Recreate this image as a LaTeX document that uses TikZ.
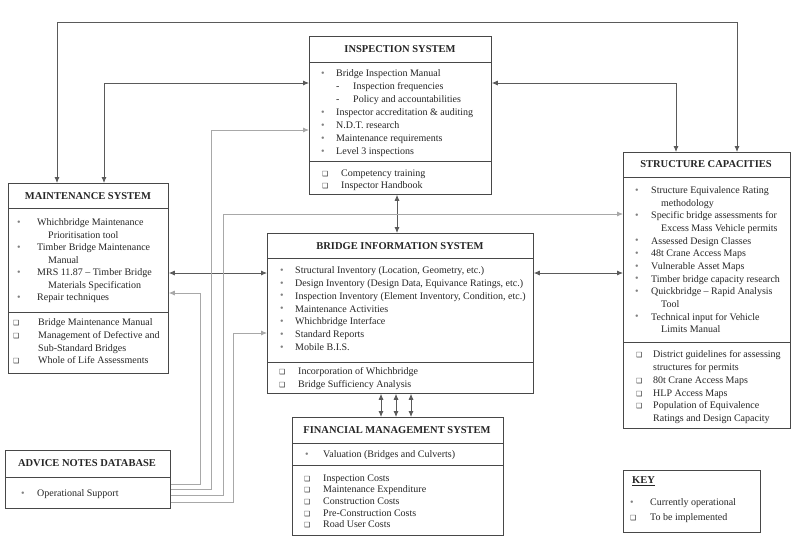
\documentclass[tikz,border=0pt]{standalone}
\usepackage{fontspec}
\setmainfont{Liberation Serif}
\newfontfamily\symfont{DejaVu Sans}
\usetikzlibrary{
    arrows.meta,
    positioning
}

\definecolor{boxgray}{HTML}{484848}
\definecolor{linegray}{HTML}{5A5A5A}
\definecolor{feedgray}{HTML}{A8A8A8}
\definecolor{textgray}{HTML}{262626}

\newcommand{\bul}[1][15pt]{\makebox[#1][l]{\textcolor{gray}{\raisebox{0.3pt}{\fontsize{10}{10}\selectfont\textbullet}}}}
\newcommand{\sq}[1][16pt]{\makebox[#1][l]{\symfont\fontsize{7}{7}\selectfont ❑}}
\newcommand{\ind}[1]{\hspace*{#1}}

\tikzset{
    box/.style={draw=boxgray, line width=0.8pt, anchor=north west, inner sep=0pt},
    rule/.style={draw=boxgray, line width=0.8pt},
    title/.style={font=\fontsize{10.5}{12}\selectfont\bfseries, text=textgray, inner sep=0pt},
    list/.style={anchor=north west, inner sep=0pt, align=left, text=textgray,
        font=\fontsize{10}{13}\selectfont},
    conn/.style={draw=linegray, line width=0.8pt,
        {Latex[length=6pt,width=5pt]}-{Latex[length=6pt,width=5pt]}},
    feed/.style={draw=feedgray, line width=0.8pt, -{Latex[length=6pt,width=5pt]}}
}

\begin{document}
\begin{tikzpicture}[x=1pt, y=-1pt]
    \fill[white] (0,0) rectangle (800,552);
    \useasboundingbox (0,0) rectangle (800,552);

    % boxes
    \node[box, minimum width=182pt, minimum height=158pt] (insp) at (309,36) {};
    \node[box, minimum width=160pt, minimum height=190pt] (maint) at (8,183) {};
    \node[box, minimum width=167pt, minimum height=276pt] (struc) at (623,152) {};
    \node[box, minimum width=266pt, minimum height=160pt] (bis) at (267,233) {};
    \node[box, minimum width=211pt, minimum height=118pt] (fin) at (292,417) {};
    \node[box, minimum width=165pt, minimum height=58pt] (adv) at (5,450) {};
    \node[box, minimum width=137pt, minimum height=62pt] (key) at (623,470) {};

    \draw[rule] (insp.west |- 0,62) -- (insp.east |- 0,62);
    \draw[rule] (insp.west |- 0,161) -- (insp.east |- 0,161);
    \draw[rule] (maint.west |- 0,208) -- (maint.east |- 0,208);
    \draw[rule] (maint.west |- 0,312) -- (maint.east |- 0,312);
    \draw[rule] (struc.west |- 0,177) -- (struc.east |- 0,177);
    \draw[rule] (struc.west |- 0,342) -- (struc.east |- 0,342);
    \draw[rule] (bis.west |- 0,258) -- (bis.east |- 0,258);
    \draw[rule] (bis.west |- 0,362) -- (bis.east |- 0,362);
    \draw[rule] (fin.west |- 0,443) -- (fin.east |- 0,443);
    \draw[rule] (fin.west |- 0,465) -- (fin.east |- 0,465);
    \draw[rule] (adv.west |- 0,477) -- (adv.east |- 0,477);

    % titles
    \node[title] (insp-t) at (400,49) {INSPECTION SYSTEM};
    \node[title] (maint-t) at (88,196) {MAINTENANCE SYSTEM};
    \node[title] (struc-t) at (706,164) {STRUCTURE CAPACITIES};
    \node[title] (bis-t) at (400,246) {BRIDGE INFORMATION SYSTEM};
    \node[title] (fin-t) at (397,430) {FINANCIAL MANAGEMENT SYSTEM};
    \node[title] (adv-t) at (87,463) {ADVICE NOTES DATABASE};
    \node[title, anchor=base west] (key-t) at (632,483.5) {\underline{KEY}};

    % inspection system
    \node[list] (insp-a) at (321,69.5) {\bul Bridge Inspection Manual\\
        \ind{15pt}\makebox[17pt][l]{-}Inspection frequencies\\
        \ind{15pt}\makebox[17pt][l]{-}Policy and accountabilities\\
        \bul Inspector accreditation \& auditing\\
        \bul N.D.T. research\\
        \bul Maintenance requirements\\
        \bul Level 3 inspections};
    \node[list, font=\fontsize{10}{12.5}\selectfont] (insp-b) at (322,169.5) {\sq[19pt]Competency training\\
        \sq[19pt]Inspector Handbook};

    % maintenance system
    \node[list, font=\fontsize{10}{12.5}\selectfont] (maint-a) at (17,218.5) {\bul[20pt]Whichbridge Maintenance\\
        \ind{31pt}Prioritisation tool\\
        \bul[20pt]Timber Bridge Maintenance\\
        \ind{31pt}Manual\\
        \bul[20pt]MRS 11.87 -- Timber Bridge\\
        \ind{31pt}Materials Specification\\
        \bul[20pt]Repair techniques};
    \node[list, font=\fontsize{10}{12.7}\selectfont] (maint-b) at (13,318.5) {\sq[25pt]Bridge Maintenance Manual\\
        \sq[25pt]Management of Defective and\\
        \ind{25pt}Sub-Standard Bridges\\
        \sq[25pt]Whole of Life Assessments};

    % structure capacities
    \node[list, font=\fontsize{10}{12.65}\selectfont] (struc-a) at (635,186.5) {\bul[16pt]Structure Equivalence Rating\\
        \ind{26pt}methodology\\
        \bul[16pt]Specific bridge assessments for\\
        \ind{26pt}Excess Mass Vehicle permits\\
        \bul[16pt]Assessed Design Classes\\
        \bul[16pt]48t Crane Access Maps\\
        \bul[16pt]Vulnerable Asset Maps\\
        \bul[16pt]Timber bridge capacity research\\
        \bul[16pt]Quickbridge -- Rapid Analysis\\
        \ind{26pt}Tool\\
        \bul[16pt]Technical input for Vehicle\\
        \ind{26pt}Limits Manual};
    \node[list, font=\fontsize{10}{12.8}\selectfont] (struc-b) at (636,350.5) {\sq[17pt]District guidelines for assessing\\
        \ind{17pt}structures for permits\\
        \sq[17pt]80t Crane Access Maps\\
        \sq[17pt]HLP Access Maps\\
        \sq[17pt]Population of Equivalence\\
        \ind{17pt}Ratings and Design Capacity};

    % bridge information system
    \node[list, font=\fontsize{10}{12.8}\selectfont] (bis-a) at (280,266.5) {\bul Structural Inventory (Location, Geometry, etc.)\\
        \bul Design Inventory (Design Data, Equivance Ratings, etc.)\\
        \bul Inspection Inventory (Element Inventory, Condition, etc.)\\
        \bul Maintenance Activities\\
        \bul Whichbridge Interface\\
        \bul Standard Reports\\
        \bul Mobile B.I.S.};
    \node[list] (bis-b) at (279,367.5) {\sq[19pt]Incorporation of Whichbridge\\
        \sq[19pt]Bridge Sufficiency Analysis};

    % financial management system
    \node[list] (fin-a) at (305,450.5) {\bul[18pt]Valuation (Bridges and Culverts)};
    \node[list, font=\fontsize{10}{11.6}\selectfont] (fin-b) at (304,474.5) {\sq[19pt]Inspection Costs\\
        \sq[19pt]Maintenance Expenditure\\
        \sq[19pt]Construction Costs\\
        \sq[19pt]Pre-Construction Costs\\
        \sq[19pt]Road User Costs};

    % advice notes and key
    \node[list] (adv-a) at (21,489.5) {\bul[16pt]Operational Support};
    \node[list, font=\fontsize{10}{15}\selectfont] (key-a) at (630,498.5) {\bul[20pt]Currently operational\\
        \sq[20pt]To be implemented};

    % links
    \draw[conn] (maint.north -| 57,0) -- (57,22) -- (737,22) -- (struc.north -| 737,0);
    \draw[conn] (maint.north -| 104,0) |- (insp.west |- 0,83);
    \draw[conn] (struc.north -| 676,0) |- (insp.east |- 0,83);
    \draw[conn] (insp.south -| 397,0) -- (bis.north -| 397,0);
    \draw[conn] (maint.east |- 0,273) -- (bis.west |- 0,273);
    \draw[conn] (bis.east |- 0,273) -- (struc.west |- 0,273);
    \foreach \x in {381,396,411}
        \draw[conn] (bis.south -| \x,0) -- (fin.north -| \x,0);

    % advice notes feeds
    \draw[feed] (adv.east |- 0,484) -| (200,293) -- (maint.east |- 0,293);
    \draw[feed] (adv.east |- 0,489) -| (211,130) -- (insp.west |- 0,130);
    \draw[feed] (adv.east |- 0,495) -| (223,214) -- (struc.west |- 0,214);
    \draw[feed] (adv.east |- 0,502) -| (233,333) -- (bis.west |- 0,333);
\end{tikzpicture}
\end{document}
